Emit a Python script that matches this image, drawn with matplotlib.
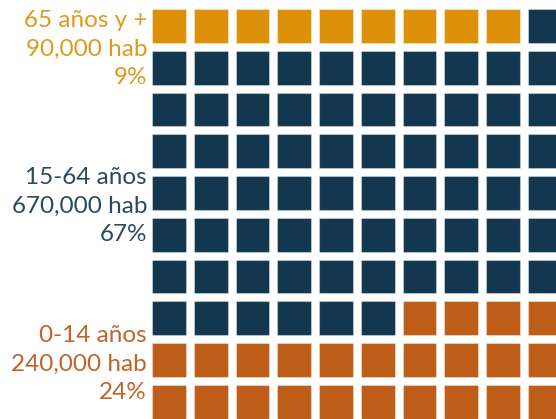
import numpy as np
import matplotlib.pyplot as plt
from matplotlib.patches import Rectangle

groups = ['65 años y +', '15-64 años', '0-14 años']
population = ['90,000 hab', '670,000 hab', '240,000 hab']
percent = [9, 67, 24]
colors = ['#dc9108', '#12374f', '#bd5d18']
text_colors = ['#de9a1c', '#2a4a5f', '#c0652a']

n_cols = 10
n_rows = 10

W, H = 556, 419
fig = plt.figure(figsize=(W / 100, H / 100), dpi=100)
ax = fig.add_axes([0, 0, 1, 1])

# grid geometry in pixels (cell pitch), used to set the limits
x0, y0, pitch_x, pitch_y = 152, 9, 41.75, 41.78
ax.set_xlim(-x0 / pitch_x, (W - x0) / pitch_x)
ax.set_ylim((H - y0) / pitch_y, -y0 / pitch_y)
ax.axis('off')

cell = 0.81
cell_colors = np.repeat(np.arange(len(percent)), percent)
for i, g in enumerate(cell_colors):
    r, c = divmod(i, n_cols)
    ax.add_patch(Rectangle((c, r), cell, cell * pitch_x / pitch_y,
                           facecolor=colors[g], edgecolor=(1, 1, 1, 0.35),
                           linewidth=0.8))

plt.rcParams['font.family'] = ['Lato', 'DejaVu Sans']
baselines = [27, 184, 342]
step = 28.5
for k in range(len(groups)):
    lines = [groups[k], population[k], f'{percent[k]}%']
    for j, s in enumerate(lines):
        fig.text(147 / W, 1 - (baselines[k] + j * step) / H, s,
                 ha='right', va='baseline', fontsize=17.5,
                 color=text_colors[k], family=['Lato', 'DejaVu Sans'])

fig.savefig('out.png', dpi=100)
